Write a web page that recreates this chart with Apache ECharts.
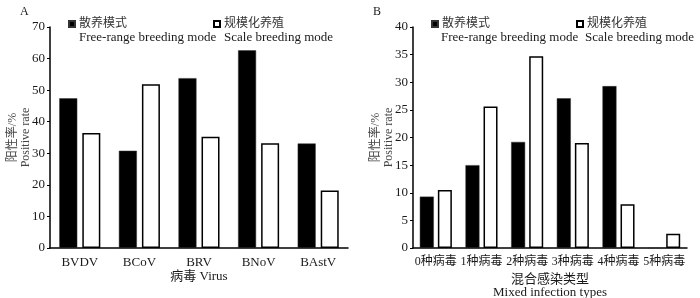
<!DOCTYPE html>
<html>
<head>
<meta charset="utf-8">
<script src="https://cdn.jsdelivr.net/npm/echarts@6/dist/echarts.min.js"></script>
<style>
html, body { margin: 0; padding: 0; background: #fff; }
#chart { width: 700px; height: 298px; }
</style>
</head>
<body>
<div id="chart"></div>
<script>
// panel A
const virusNames = ['BVDV', 'BCoV', 'BRV', 'BNoV', 'BAstV'];
const freeRangeA = [47.4, 30.8, 53.8, 62.6, 33.1];
const scaleA = [36.4, 51.9, 35.2, 33.2, 18.2];
// panel B
const mixTypes = ['0种病毒', '1种病毒', '2种病毒', '3种病毒', '4种病毒', '5种病毒'];
const freeRangeB = [9.3, 15.0, 19.2, 27.1, 29.3, 0];
const scaleB = [10.5, 25.6, 34.7, 19.0, 7.9, 2.6];

const serif = '"Liberation Serif", "Noto Sans CJK SC", serif';
const txt = '#1a1a1a';

const chart = echarts.init(document.getElementById('chart'));

const blackStyle = { color: '#000', borderColor: '#333', borderWidth: 0.5 };
const whiteStyle = { color: '#fff', borderColor: '#000', borderWidth: 1.5 };

const xAxisBase = (data, name, gap, labelSize) => ({
    type: 'category',
    data: data,
    name: name,
    nameLocation: 'middle',
    nameGap: gap,
    nameMoveOverlap: false,
    nameTextStyle: { fontFamily: serif, fontSize: 13, color: txt, lineHeight: 13 },
    axisLine: { show: true, lineStyle: { color: '#000', width: 1.5 } },
    axisTick: { show: false },
    axisLabel: { fontFamily: serif, fontSize: labelSize, color: txt, margin: 8, interval: 0 },
    splitLine: { show: false },
});

const yAxisBase = (max, interval) => ({
    type: 'value',
    min: 0,
    max: max,
    interval: interval,
    name: '阳性率/%\nPositive rate',
    nameLocation: 'middle',
    nameRotate: 90,
    nameGap: 18,
    nameMoveOverlap: false,
    nameTextStyle: { fontFamily: serif, fontSize: 12, color: '#444', lineHeight: 13 },
    axisLine: { show: true, lineStyle: { color: '#000', width: 1.5 } },
    axisTick: { show: true, inside: false, length: 3, lineStyle: { color: '#000' } },
    axisLabel: { fontFamily: serif, fontSize: 13, color: txt, margin: 5 },
    splitLine: { show: false },
});

const legendItem = (name, left) => ({
    data: [name],
    left: left,
    top: 18,
    icon: 'rect',
    itemWidth: 6,
    itemHeight: 6,
    itemGap: 0,
    padding: 0,
    textStyle: { fontFamily: serif, fontSize: 12, color: '#333', padding: [0, 0, 0, -1] },
    selectedMode: false,
});

const engText = (text, left) => ({
    type: 'text',
    left: left,
    top: 31,
    style: { text: text, font: '13px ' + serif, fill: txt },
});

chart.setOption({
    animation: false,
    title: [
        { text: 'A', left: 15, top: 1, textStyle: { fontFamily: serif, fontSize: 12, fontWeight: 'normal', color: txt } },
        { text: 'B', left: 368, top: 1, textStyle: { fontFamily: serif, fontSize: 12, fontWeight: 'normal', color: txt } },
    ],
    legend: [
        legendItem('散养模式', 68),
        legendItem('规模化养殖', 213),
        legendItem('散养模式', 431),
        legendItem('规模化养殖', 576),
    ],
    graphic: [
        engText('Free-range breeding mode', 79),
        engText('Scale breeding mode', 224),
        engText('Free-range breeding mode', 441),
        engText('Scale breeding mode', 585),
    ],
    grid: [
        { left: 50, right: 352, top: 27, bottom: 50, containLabel: false, outerBoundsMode: 'none' },
        { left: 413, right: 13, top: 27, bottom: 50, containLabel: false, outerBoundsMode: 'none' },
    ],
    xAxis: [
        Object.assign(xAxisBase(virusNames, '病毒 Virus', 22, 13), { gridIndex: 0 }),
        Object.assign(xAxisBase(mixTypes, '混合感染类型\nMixed infection types', 25, 12), { gridIndex: 1 }),
    ],
    yAxis: [
        Object.assign(yAxisBase(70, 10), { gridIndex: 0 }),
        Object.assign(yAxisBase(40, 5), { gridIndex: 1 }),
    ],
    series: [
        { name: '散养模式', type: 'bar', xAxisIndex: 0, yAxisIndex: 0, data: freeRangeA, barWidth: 18, barGap: '28%', itemStyle: blackStyle },
        { name: '规模化养殖', type: 'bar', xAxisIndex: 0, yAxisIndex: 0, data: scaleA, barWidth: 18, barGap: '28%', itemStyle: whiteStyle },
        { name: '散养模式', type: 'bar', xAxisIndex: 1, yAxisIndex: 1, data: freeRangeB, barWidth: 14, barGap: '29%', itemStyle: blackStyle },
        { name: '规模化养殖', type: 'bar', xAxisIndex: 1, yAxisIndex: 1, data: scaleB, barWidth: 14, barGap: '29%', itemStyle: whiteStyle },
    ],
});
</script>
</body>
</html>
